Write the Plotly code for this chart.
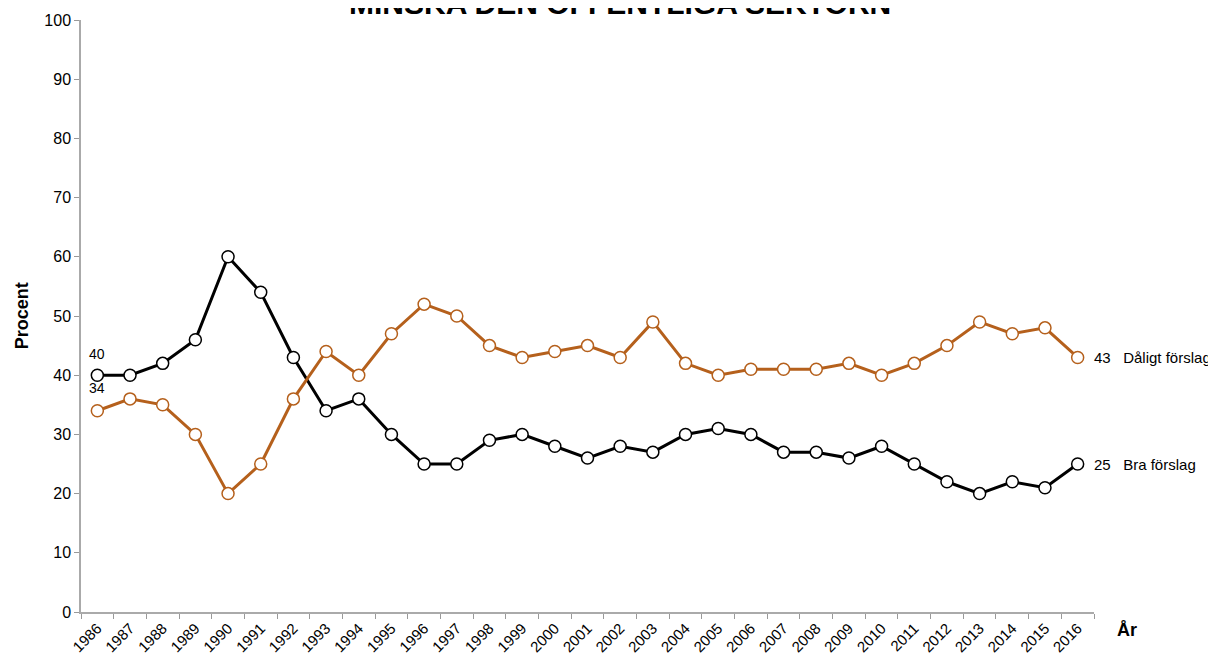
import plotly.graph_objects as go

years = [str(y) for y in range(1986, 2017)]
bra = [40, 40, 42, 46, 60, 54, 43, 34, 36, 30, 25, 25, 29, 30, 28, 26, 28, 27, 30, 31,
       30, 27, 27, 26, 28, 25, 22, 20, 22, 21, 25]
daligt = [34, 36, 35, 30, 20, 25, 36, 44, 40, 47, 52, 50, 45, 43, 44, 45, 43, 49, 42, 40,
          41, 41, 41, 42, 40, 42, 45, 49, 47, 48, 43]
y_ticks = [0, 10, 20, 30, 40, 50, 60, 70, 80, 90, 100]

BLACK = "#000000"
ORANGE = "#b5601c"
FONT = "Liberation Sans, Arial, sans-serif"

fig = go.Figure()
fig.add_trace(go.Scatter(
    x=years, y=bra, mode="lines+markers", name="Bra förslag",
    line=dict(color=BLACK, width=3),
    marker=dict(size=12, color="white", line=dict(color=BLACK, width=1.5)),
    showlegend=False, cliponaxis=False))
fig.add_trace(go.Scatter(
    x=years, y=daligt, mode="lines+markers", name="Dåligt förslag",
    line=dict(color=ORANGE, width=3),
    marker=dict(size=12, color="white", line=dict(color=ORANGE, width=1.5)),
    showlegend=False, cliponaxis=False))

first = 0
last = len(years) - 1
# start labels
fig.add_annotation(x=first, y=bra[0], text=str(bra[0]), showarrow=False,
                   yshift=21, font=dict(size=14, color="black", family=FONT))
fig.add_annotation(x=first, y=daligt[0], text=str(daligt[0]), showarrow=False,
                   yshift=23, font=dict(size=14, color="black", family=FONT))
# end labels
fig.add_annotation(x=last, y=daligt[-1], text=f"{daligt[-1]}   Dåligt förslag",
                   showarrow=False, xanchor="left", xshift=14,
                   font=dict(size=15, color="black", family=FONT))
fig.add_annotation(x=last, y=bra[-1], text=f"{bra[-1]}   Bra förslag",
                   showarrow=False, xanchor="left", xshift=14,
                   font=dict(size=15, color="black", family=FONT))

# axis titles
fig.add_annotation(xref="paper", yref="paper", x=-0.058, y=0.5, text="<b>Procent</b>",
                   textangle=-90, showarrow=False, xanchor="center", yanchor="middle",
                   font=dict(size=18, color="black", family=FONT))
fig.add_annotation(xref="paper", yref="paper", x=1.033, y=-0.03, text="<b>År</b>",
                   showarrow=False, xanchor="center", yanchor="middle",
                   font=dict(size=18, color="black", family=FONT))
# title (cut off at top as in the reference)
fig.add_annotation(xref="paper", yref="paper", x=0.532, y=1.0, yshift=17,
                   text="<b>MINSKA DEN OFFENTLIGA SEKTORN</b>",
                   showarrow=False, xanchor="center", yanchor="middle",
                   font=dict(size=30, color="black", family=FONT))

fig.update_layout(
    width=1216, height=659,
    margin=dict(l=73, r=130, t=12, b=55),
    paper_bgcolor="white", plot_bgcolor="white",
    xaxis=dict(type="category", tickson="boundaries", ticks="outside", ticklen=5,
               range=[-0.5, len(years) - 0.5], automargin=False,
               tickcolor="#999999", showline=True, linecolor="#aaaaaa", linewidth=1.5,
               showgrid=False, tickangle=-45, zeroline=False,
               tickfont=dict(size=15, color="black", family=FONT)),
    yaxis=dict(range=[0, 100], tickvals=y_ticks, ticks="outside", ticklen=5,
               automargin=False,
               tickcolor="#999999", showline=True, linecolor="#aaaaaa", linewidth=1.5,
               showgrid=False, zeroline=False, ticksuffix="    ",
               tickfont=dict(size=16, color="black", family=FONT)),
)

fig.write_html("out.html")
